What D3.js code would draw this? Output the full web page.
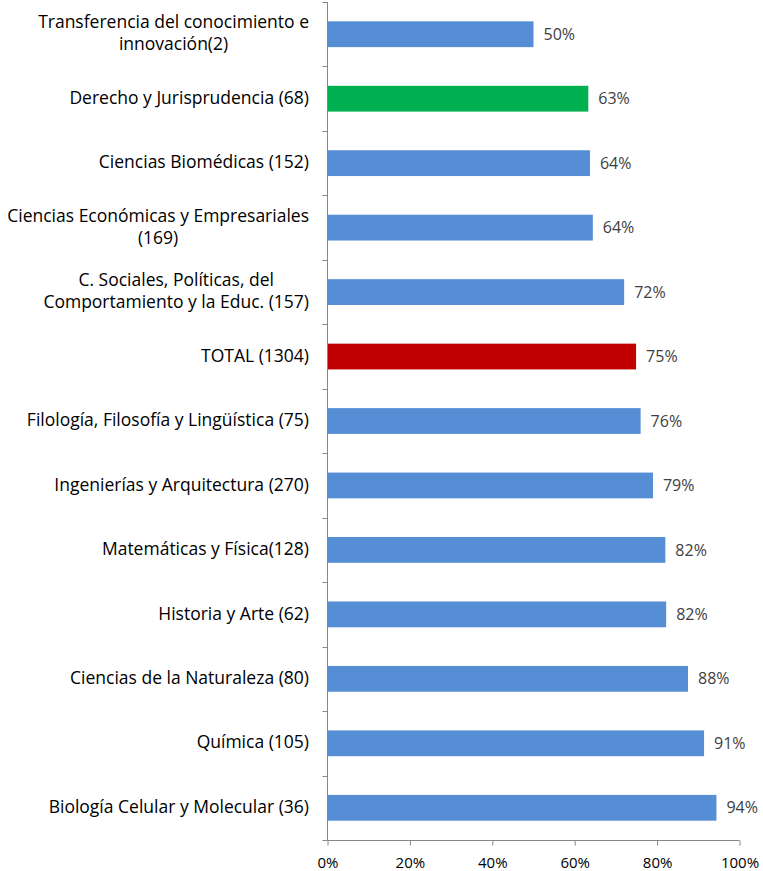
<!DOCTYPE html>
<html><head><meta charset="utf-8">
<script src="https://cdn.jsdelivr.net/npm/d3@7"></script>
<style>body{margin:0;background:#fff}svg{display:block}</style>
</head><body>
<svg id="c" width="763" height="871"></svg>
<script>
const categories = [
  "Transferencia del conocimiento e|innovación(2)",
  "Derecho y Jurisprudencia (68)",
  "Ciencias Biomédicas (152)",
  "Ciencias Económicas y Empresariales|(169)",
  "C. Sociales, Políticas, del|Comportamiento y la Educ. (157)",
  "TOTAL (1304)",
  "Filología, Filosofía y Lingüística (75)",
  "Ingenierías y Arquitectura (270)",
  "Matemáticas y Física(128)",
  "Historia y Arte (62)",
  "Ciencias de la Naturaleza (80)",
  "Química (105)",
  "Biología Celular y Molecular (36)"
];
const values = [0.50, 0.633, 0.637, 0.644, 0.72, 0.749, 0.76, 0.79, 0.82, 0.822, 0.875, 0.914, 0.944];
const barColors = ["#558ED5","#00B050","#558ED5","#558ED5","#558ED5","#C00000","#558ED5","#558ED5","#558ED5","#558ED5","#558ED5","#558ED5","#558ED5"];
const tickValues = [0, 0.2, 0.4, 0.6, 0.8, 1.0];

const svg = d3.select("#c");
const font = "'Open Sans', sans-serif";
const x0 = 327.5, x1 = 739.5, yTop = 2, yBot = 840;
const x = d3.scaleLinear().domain([0, 1]).range([x0, x1]);
const y = d3.scaleBand().domain(categories).range([yTop, yBot]).paddingInner(0.6).paddingOuter(0.3);
const band = d3.scaleBand().domain(categories).range([yTop, yBot]);

const axisColor = "#868686";
svg.append("line").attr("x1", x0).attr("x2", x0).attr("y1", yTop).attr("y2", yBot).attr("stroke", axisColor);
svg.append("line").attr("x1", x0).attr("x2", x1).attr("y1", yBot + 0.5).attr("y2", yBot + 0.5).attr("stroke", axisColor);
const bTicks = categories.map(c => band(c)).concat([yBot]);
svg.selectAll(".ct").data(bTicks).enter().append("line")
  .attr("x1", x0 - 5).attr("x2", x0).attr("y1", d => Math.round(d) + 0.5).attr("y2", d => Math.round(d) + 0.5).attr("stroke", axisColor);

const xAxis = d3.axisBottom(x).tickValues(tickValues).tickFormat(d3.format(".0%")).tickSizeInner(5).tickSizeOuter(0);
const gx = svg.append("g").attr("transform", `translate(0,${yBot + 0.5})`).call(xAxis);
gx.select(".domain").remove();
gx.selectAll(".tick line").attr("stroke", axisColor);
gx.selectAll(".tick text").attr("font-family", font).attr("font-size", 15).attr("fill", "#000").attr("dy", "0").attr("y", 27);

svg.selectAll(".bar").data(values).enter().append("rect")
  .attr("x", x0 + 0.5)
  .attr("y", (d, i) => y(categories[i]))
  .attr("width", d => x(d) - x0 - 0.5)
  .attr("height", y.bandwidth())
  .attr("fill", (d, i) => barColors[i]);

svg.selectAll(".vl").data(values).enter().append("text")
  .attr("x", d => x(d) + 10)
  .attr("y", (d, i) => y(categories[i]) + y.bandwidth() / 2)
  .attr("dy", "0.35em")
  .attr("font-family", font).attr("font-size", 16).attr("fill", "#404040")
  .text(d => d3.format(".0%")(d));

const right = 309;
categories.forEach((c, i) => {
  const lines = c.split("|");
  const cy = band(c) + band.bandwidth() / 2 - 1;
  const g = svg.append("g");
  const lh = 22;
  const ts = lines.map((l, j) => g.append("text")
    .attr("font-family", font).attr("font-size", 17.5).attr("fill", "#000")
    .attr("text-anchor", "middle").attr("dy", "0.35em")
    .attr("y", cy + (j - (lines.length - 1) / 2) * lh)
    .text(l));
  const maxW = d3.max(ts, t => t.node().getComputedTextLength());
  ts.forEach(t => t.attr("x", right - maxW / 2));
});
</script>
</body></html>
